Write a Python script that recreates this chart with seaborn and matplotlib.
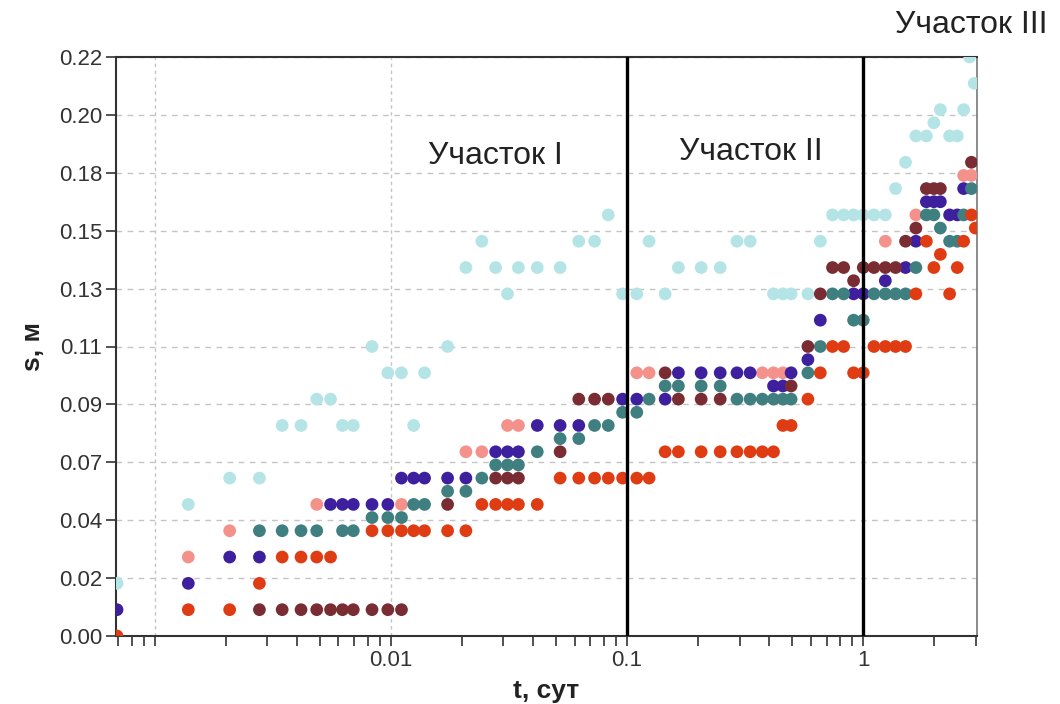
import matplotlib
matplotlib.use("Agg")
import matplotlib.pyplot as plt
import numpy as np
import pandas as pd
import seaborn as sns
from matplotlib import font_manager
from matplotlib.ticker import FixedLocator, FixedFormatter, LogLocator, NullFormatter

# Drawdown s (m) versus time t (days) for six observation wells
t_p1 = [0.000694, 0.00139, 0.00208, 0.00278, 0.00347, 0.00417, 0.00486, 0.00556, 0.00625, 0.00694,
        0.00833, 0.00972, 0.0111, 0.0125, 0.0139, 0.0174, 0.0208, 0.0243, 0.0278, 0.0312,
        0.0347, 0.0417, 0.0521, 0.0625, 0.0729, 0.0833, 0.0958, 0.110, 0.124, 0.145,
        0.165, 0.206, 0.248, 0.292, 0.332, 0.417, 0.457, 0.495, 0.583, 0.658,
        0.741, 0.826, 0.910, 1.00, 1.11, 1.24, 1.37, 1.51, 1.67, 1.85,
        1.99, 2.12, 2.32, 2.50, 2.66, 2.82, 2.95]
s_p1 = [0.02, 0.05, 0.06, 0.06, 0.08, 0.08, 0.09, 0.09, 0.08, 0.08,
        0.11, 0.10, 0.10, 0.08, 0.10, 0.11, 0.14, 0.15, 0.14, 0.13,
        0.14, 0.14, 0.14, 0.15, 0.15, 0.16, 0.13, 0.13, 0.15, 0.13,
        0.14, 0.14, 0.14, 0.15, 0.15, 0.13, 0.13, 0.13, 0.13, 0.15,
        0.16, 0.16, 0.16, 0.16, 0.16, 0.16, 0.17, 0.18, 0.19, 0.19,
        0.195, 0.20, 0.19, 0.19, 0.20, 0.22, 0.21]

t_p2 = [0.00139, 0.00208, 0.00486, 0.0111, 0.0208, 0.0243, 0.0312, 0.0347, 0.110, 0.124,
        0.374, 0.417, 0.457, 1.24, 1.67, 2.66, 2.87]
s_p2 = [0.03, 0.04, 0.05, 0.05, 0.07, 0.07, 0.08, 0.08, 0.10, 0.10,
        0.10, 0.10, 0.10, 0.15, 0.16, 0.175, 0.175]

t_p3 = [0.000694, 0.00139, 0.00208, 0.00278, 0.00556, 0.00625, 0.00694, 0.00833, 0.00972, 0.0111,
        0.0125, 0.0139, 0.0174, 0.0208, 0.0278, 0.0312, 0.0347, 0.0417, 0.0521, 0.0625,
        0.0958, 0.110, 0.145, 0.165, 0.206, 0.248, 0.292, 0.332, 0.417, 0.457,
        0.495, 0.583, 0.658, 0.910, 1.00, 1.24, 1.51, 1.67, 1.85, 1.99,
        2.12, 2.32, 2.50, 2.66]
s_p3 = [0.01, 0.02, 0.03, 0.03, 0.05, 0.05, 0.05, 0.05, 0.05, 0.06,
        0.06, 0.06, 0.06, 0.06, 0.07, 0.07, 0.07, 0.08, 0.08, 0.08,
        0.09, 0.09, 0.09, 0.10, 0.10, 0.10, 0.10, 0.10, 0.095, 0.095,
        0.10, 0.105, 0.12, 0.13, 0.13, 0.135, 0.14, 0.15, 0.165, 0.165,
        0.165, 0.16, 0.16, 0.17]

t_p4 = [0.00278, 0.00347, 0.00417, 0.00486, 0.00625, 0.00694, 0.00833, 0.00972, 0.0111, 0.0125,
        0.0139, 0.0174, 0.0208, 0.0243, 0.0278, 0.0312, 0.0347, 0.0417, 0.0521, 0.0625,
        0.0729, 0.0833, 0.0958, 0.110, 0.124, 0.145, 0.165, 0.206, 0.248, 0.292,
        0.332, 0.374, 0.417, 0.457, 0.495, 0.583, 0.658, 0.741, 0.826, 0.910,
        1.00, 1.11, 1.24, 1.37, 1.51, 1.67, 1.85, 1.99, 2.12, 2.32,
        2.50, 2.66, 2.87]
s_p4 = [0.04, 0.04, 0.04, 0.04, 0.04, 0.04, 0.045, 0.045, 0.045, 0.05,
        0.05, 0.055, 0.055, 0.06, 0.065, 0.065, 0.065, 0.07, 0.075, 0.075,
        0.08, 0.08, 0.085, 0.085, 0.09, 0.095, 0.095, 0.095, 0.095, 0.09,
        0.09, 0.09, 0.09, 0.09, 0.09, 0.10, 0.11, 0.13, 0.13, 0.12,
        0.12, 0.13, 0.13, 0.13, 0.13, 0.14, 0.16, 0.16, 0.155, 0.15,
        0.15, 0.16, 0.17]

t_p5 = [0.00278, 0.00347, 0.00417, 0.00486, 0.00556, 0.00625, 0.00694, 0.00833, 0.00972, 0.0111,
        0.0174, 0.0278, 0.0312, 0.0347, 0.0521, 0.0625, 0.0729, 0.0833, 0.145, 0.165,
        0.206, 0.248, 0.495, 0.583, 0.658, 0.741, 0.826, 0.910, 1.00, 1.11,
        1.24, 1.37, 1.51, 1.67, 1.85, 1.99, 2.12, 2.87]
s_p5 = [0.01, 0.01, 0.01, 0.01, 0.01, 0.01, 0.01, 0.01, 0.01, 0.01,
        0.05, 0.06, 0.06, 0.06, 0.07, 0.09, 0.09, 0.09, 0.10, 0.09,
        0.09, 0.09, 0.095, 0.11, 0.13, 0.14, 0.14, 0.135, 0.14, 0.14,
        0.14, 0.14, 0.15, 0.155, 0.17, 0.17, 0.17, 0.18]

t_p6 = [0.000694, 0.00139, 0.00208, 0.00278, 0.00347, 0.00417, 0.00486, 0.00556, 0.00833, 0.00972,
        0.0111, 0.0125, 0.0139, 0.0174, 0.0208, 0.0243, 0.0278, 0.0312, 0.0347, 0.0417,
        0.0521, 0.0625, 0.0729, 0.0833, 0.0958, 0.110, 0.124, 0.145, 0.165, 0.206,
        0.248, 0.292, 0.332, 0.374, 0.417, 0.457, 0.495, 0.583, 0.658, 0.741,
        0.826, 0.910, 1.00, 1.11, 1.24, 1.37, 1.51, 1.67, 1.85, 1.99,
        2.12, 2.32, 2.50, 2.66, 2.87, 2.98]
s_p6 = [0.0, 0.01, 0.01, 0.02, 0.03, 0.03, 0.03, 0.03, 0.04, 0.04,
        0.04, 0.04, 0.04, 0.04, 0.04, 0.05, 0.05, 0.05, 0.05, 0.05,
        0.06, 0.06, 0.06, 0.06, 0.06, 0.06, 0.06, 0.07, 0.07, 0.07,
        0.07, 0.07, 0.07, 0.07, 0.07, 0.08, 0.08, 0.09, 0.10, 0.11,
        0.11, 0.10, 0.10, 0.11, 0.11, 0.11, 0.11, 0.13, 0.15, 0.14,
        0.145, 0.13, 0.14, 0.15, 0.16, 0.155]

wells = ["P1", "P2", "P3", "P4", "P5", "P6"]
well_colors = ["#b4e4e6", "#f4918a", "#3e1f9e", "#3f7f80", "#7a2c33", "#e03c14"]

# Section boundaries (days) and labels
section_bounds = [0.1, 1.0]
section_names = ["Участок I", "Участок II", "Участок III"]

# Y ticks every 0.022 m, labelled with two decimals
y_ticks = [0.0, 0.022, 0.044, 0.066, 0.088, 0.11, 0.132, 0.154, 0.176, 0.198, 0.22]
x_major = [0.001, 0.01, 0.1, 1.0]
x_major_labels = ["", "0.01", "0.1", "1"]

series = [(t_p1, s_p1), (t_p2, s_p2), (t_p3, s_p3), (t_p4, s_p4), (t_p5, s_p5), (t_p6, s_p6)]
frames = []
for name, (tt, ss) in zip(wells, series):
    assert len(tt) == len(ss)
    frames.append(pd.DataFrame({"t": tt, "s": ss, "well": name}))
df = pd.concat(frames, ignore_index=True)

sns.set_style("white")
plt.rcParams["font.family"] = ["Liberation Sans", "DejaVu Sans"]

# Condensed face for tick and axis labels when it is available
installed = {f.name for f in font_manager.fontManager.ttflist}
narrow = ["Liberation Sans Narrow", "Liberation Sans"] if "Liberation Sans Narrow" in installed \
    else ["Liberation Sans"]

fig = plt.figure(figsize=(10.6, 7.04), dpi=100)
ax = fig.add_axes([116 / 1060, 1 - 636 / 704, (977 - 116) / 1060, (636 - 57) / 704])

sns.scatterplot(data=df, x="t", y="s", hue="well", hue_order=wells,
                palette=dict(zip(wells, well_colors)), s=84, linewidth=0,
                alpha=1.0, legend=False, ax=ax, zorder=3)

ax.set_xscale("log")
ax.set_xlim(0.000687, 3.03)
ax.set_ylim(0, 0.22)

ax.xaxis.set_major_locator(FixedLocator(x_major))
ax.xaxis.set_major_formatter(FixedFormatter(x_major_labels))
ax.xaxis.set_minor_locator(LogLocator(base=10, subs=np.arange(2, 10), numticks=20))
ax.xaxis.set_minor_formatter(NullFormatter())
ax.set_yticks(y_ticks)
ax.set_yticklabels([f"{v:.2f}" for v in y_ticks])

ax.set_axisbelow(True)
ax.yaxis.grid(True, linestyle=(0, (4, 4)), color="#c4c4c4", linewidth=1.0)
ax.xaxis.grid(True, which="major", linestyle=(0, (2.5, 2.5)), color="#c4c4c4", linewidth=1.0)

ax.tick_params(axis="both", which="both", direction="out", length=7, width=1.2,
               color="#333333", labelsize=16, labelcolor="#333333", pad=3,
               bottom=True, left=True, top=False, right=False)
for lbl in ax.get_xticklabels() + ax.get_yticklabels():
    lbl.set_family(narrow)
for side in ["left", "bottom", "top", "right"]:
    ax.spines[side].set_visible(True)
    ax.spines[side].set_color("#333333")
    ax.spines[side].set_linewidth(1.5)
ax.spines["right"].set_color("#777777")
ax.spines["right"].set_linewidth(1.2)

for xb in section_bounds:
    ax.axvline(xb, color="black", linewidth=2.4, zorder=5)

ax.set_xlabel("t, сут", fontsize=19, fontweight="bold", color="#222222", labelpad=6, family=narrow)
ax.set_ylabel("s, м", fontsize=19, fontweight="bold", color="#222222", labelpad=10, family=narrow)

ax.text(0.0276, 0.1825, section_names[0], fontsize=23, color="#222222", ha="center", va="center")
ax.text(0.335, 0.184, section_names[1], fontsize=23, color="#222222", ha="center", va="center")
fig.text(971 / 1060, 1 - 25 / 704, section_names[2], fontsize=23, color="#222222",
         ha="center", va="center")

fig.savefig("out.png", dpi=100)
